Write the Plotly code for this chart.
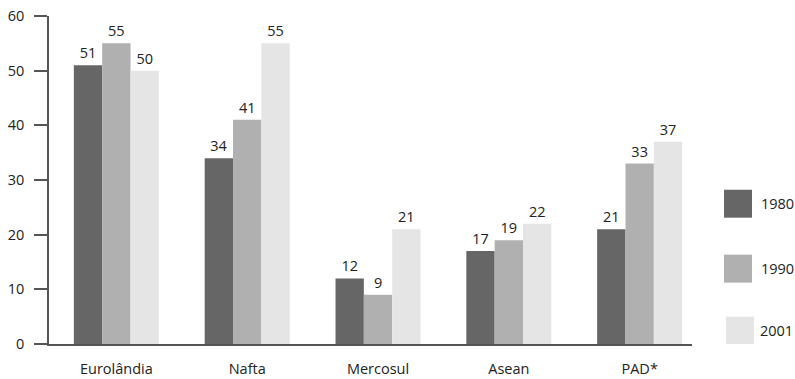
import plotly.graph_objects as go

categories = ["Eurolândia", "Nafta", "Mercosul", "Asean", "PAD*"]
years = ["1980", "1990", "2001"]
v1980 = [51, 34, 12, 17, 21]
v1990 = [55, 41, 9, 19, 33]
v2001 = [50, 55, 21, 22, 37]
y_ticks = [0, 10, 20, 30, 40, 50, 60]

series = [v1980, v1990, v2001]
colors = ["#666666", "#b0b0b0", "#e5e5e5"]

W, H = 795, 379
L, R, T, B = 49, 692, 16, 344.5
FONT = "Open Sans"
FS = 14.5

fig = go.Figure()
for name, vals, col in zip(years, series, colors):
    fig.add_trace(go.Bar(
        x=list(range(len(categories))), y=vals, name=name,
        marker=dict(color=col, line=dict(width=0)),
        text=[str(v) for v in vals], textposition="outside",
        textfont=dict(family=FONT, size=FS, color="#222222"),
        cliponaxis=False, showlegend=False,
    ))

def px_x(p):
    return (p - L) / (R - L)

# legend drawn as shapes + text
leg = [(724, 190, 759, 204), (724, 255, 759, 269), (726, 317, 758, 331)]
yscale = (B - T) / 60.0
for (bx, by, tx, ty), name, col in zip(leg, years, colors):
    fig.add_shape(type="rect", xref="paper", yref="y",
                  x0=px_x(bx), x1=px_x(bx + 28),
                  y0=(B - by) / yscale, y1=(B - by - 28) / yscale,
                  fillcolor=col, line=dict(width=0))
    fig.add_annotation(xref="paper", yref="y", x=px_x(tx), y=(B - ty) / yscale,
                       text=name, showarrow=False, xanchor="left", yanchor="middle",
                       font=dict(family=FONT, size=FS, color="#222222"))

fig.update_layout(
    width=W, height=H,
    margin=dict(l=L, r=W - R, t=T, b=H - B, autoexpand=False),
    paper_bgcolor="white", plot_bgcolor="white",
    barmode="group", bargap=0.35, bargroupgap=0,
    font=dict(family=FONT, size=FS, color="#222222"),
    xaxis=dict(
        tickmode="array", tickvals=list(range(len(categories))), ticktext=categories,
        range=[-0.515, 4.40], showgrid=False, zeroline=False,
        showline=True, linecolor="#555555", linewidth=1.5,
        ticks="outside", ticklen=11, tickcolor="rgba(0,0,0,0)",
        automargin=False,
    ),
    yaxis=dict(
        range=[0, 60], tickvals=y_ticks, showgrid=False, zeroline=False,
        showline=True, linecolor="#555555", linewidth=1.5,
        ticks="outside", ticklen=13, tickwidth=1.5, tickcolor="#555555",
        ticklabelstandoff=7, automargin=False,
    ),
)

fig.write_html("out.html")
